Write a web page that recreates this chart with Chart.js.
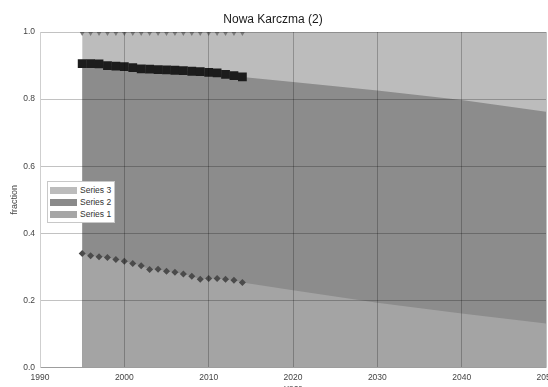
<!DOCTYPE html>
<html>
<head>
<meta charset="utf-8">
<script src="https://cdn.jsdelivr.net/npm/chart.js@4/dist/chart.umd.min.js"></script>
<style>
  html, body { margin: 0; padding: 0; background: #fff; overflow: hidden; width: 548px; height: 387px; }
  #wrap { position: relative; width: 586px; height: 400px; }
  #legend {
    position: absolute; left: 47px; top: 181px; width: 66px; height: 40px;
    background: #fff; border: 1px solid #c8c8c8;
    font: 8.5px "Liberation Sans", Arial, sans-serif; color: #333;
  }
  #legend div { position: absolute; left: 2px; height: 9px; line-height: 9px; white-space: nowrap; }
  #legend span { display: inline-block; width: 27px; height: 7px; margin-right: 3px; vertical-align: -1px; }
</style>
</head>
<body>
<div id="wrap">
  <canvas id="myChart" width="586" height="400"></canvas>
  <div id="legend"></div>
</div>
<script>
// observed years, one point each
const years = [1995, 1996, 1997, 1998, 1999, 2000, 2001, 2002, 2003, 2004,
               2005, 2006, 2007, 2008, 2009, 2010, 2011, 2012, 2013, 2014];
const series1 = [0.340, 0.333, 0.330, 0.328, 0.322, 0.317, 0.310, 0.303, 0.292, 0.293,
                 0.287, 0.284, 0.279, 0.272, 0.263, 0.265, 0.265, 0.263, 0.260, 0.253];
const series2 = [0.906, 0.906, 0.905, 0.900, 0.898, 0.897, 0.894, 0.890, 0.889, 0.888,
                 0.887, 0.886, 0.885, 0.883, 0.882, 0.880, 0.878, 0.874, 0.870, 0.866];
const series3 = [1, 1, 1, 1, 1, 1, 1, 1, 1, 1, 1, 1, 1, 1, 1, 1, 1, 1, 1, 1];

// projection after the last observed year
const projYears = [2020, 2030, 2040, 2050];
const series1Proj = [0.230, 0.193, 0.161, 0.131];
const series2Proj = [0.851, 0.826, 0.797, 0.762];
const series3Proj = [1, 1, 1, 1];

const xTicks = [1990, 2000, 2010, 2020, 2030, 2040, 2050];
const yTicks = [0, 0.2, 0.4, 0.6, 0.8, 1.0];

function pts(obs, proj) {
  return years.map((y, i) => ({ x: y, y: obs[i] }))
    .concat(projYears.map((y, i) => ({ x: y, y: proj[i] })));
}
function radius(r) {
  return years.map(() => r).concat(projYears.map(() => 0));
}

const font = '"Liberation Sans", Arial, sans-serif';

// index 0 is drawn on top
const datasets = [
  {
    label: 'Series 1',
    data: pts(series1, series1Proj),
    backgroundColor: '#a4a4a4',
    borderWidth: 0,
    fill: 'origin',
    pointStyle: 'rectRot',
    pointRadius: radius(3.5),
    pointBackgroundColor: '#4b4b4b',
    pointBorderWidth: 0,
    legendColor: '#a6a6a6'
  },
  {
    label: 'Series 2',
    data: pts(series2, series2Proj),
    backgroundColor: '#8c8c8c',
    borderWidth: 0,
    fill: 'origin',
    pointStyle: 'rect',
    pointRadius: radius(6.2),
    pointBackgroundColor: '#1c1c1c',
    pointBorderWidth: 0,
    legendColor: '#8a8a8a'
  },
  {
    label: 'Series 3',
    data: pts(series3, series3Proj),
    backgroundColor: '#bcbcbc',
    borderWidth: 0,
    fill: 'origin',
    pointStyle: 'triangle',
    pointRotation: 180,
    pointRadius: radius(4),
    pointBackgroundColor: '#7a7a7a',
    pointBorderWidth: 0,
    legendColor: '#bcbcbc'
  }
];

const config = {
  type: 'line',
  data: { datasets: datasets },
  options: {
    responsive: false,
    animation: false,
    events: [],
    layout: { padding: { left: 0, right: 40, top: 0, bottom: 0 } },
    plugins: {
      legend: { display: false },
      tooltip: { enabled: false },
      title: {
        display: true,
        text: 'Nowa Karczma (2)',
        color: '#1a1a1a',
        font: { family: font, size: 12, weight: 'normal' },
        padding: { top: 12.3, bottom: 5.3 }
      }
    },
    scales: {
      x: {
        type: 'linear',
        min: 1990,
        max: 2050,
        afterBuildTicks: s => { s.ticks = xTicks.map(v => ({ value: v })); },
        afterFit: s => { s.height = 32.5; },
        ticks: {
          color: '#444',
          font: { family: font, size: 8.5 },
          padding: 5,
          maxRotation: 0,
          callback: v => String(v)
        },
        grid: { color: 'rgba(0,0,0,0.24)', drawTicks: false, z: 1 },
        border: { color: '#cfcfcf', z: 1 },
        title: {
          display: true,
          text: 'year',
          color: '#444',
          font: { family: font, size: 9 },
          padding: { top: 0, bottom: 6.5 }
        }
      },
      y: {
        min: 0,
        max: 1,
        afterBuildTicks: s => { s.ticks = yTicks.map(v => ({ value: v })); },
        afterFit: s => { s.width = 40; },
        ticks: {
          color: '#444',
          font: { family: font, size: 8.5 },
          padding: 5,
          callback: v => v.toFixed(1)
        },
        grid: { color: 'rgba(0,0,0,0.24)', drawTicks: false, z: 1 },
        border: { color: '#cfcfcf', z: 1 },
        title: {
          display: true,
          text: 'fraction',
          color: '#444',
          font: { family: font, size: 9 },
          padding: { top: 9.5, bottom: 0 }
        }
      }
    }
  }
};

let myChart = new Chart(document.getElementById('myChart'), config);

// legend box inside the plot, Series 3 first
let legend = document.getElementById('legend');
datasets.slice().reverse().forEach((ds, i) => {
  let row = document.createElement('div');
  row.style.top = (4 + i * 12) + 'px';
  row.innerHTML = '<span style="background:' + ds.legendColor + '"></span>' + ds.label;
  legend.appendChild(row);
});
</script>
</body>
</html>
